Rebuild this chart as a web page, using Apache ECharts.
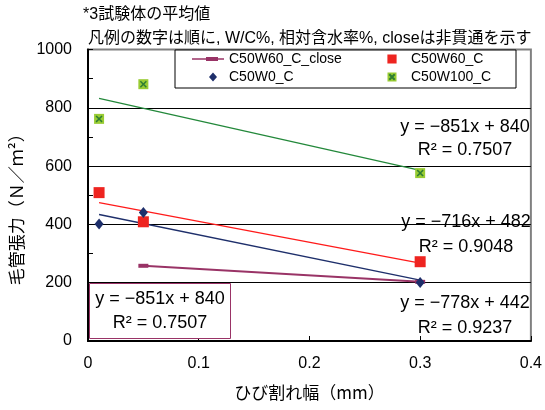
<!DOCTYPE html>
<html><head><meta charset="utf-8">
<script src="https://cdn.jsdelivr.net/npm/echarts@6/dist/echarts.min.js"></script>
<style>html,body{margin:0;padding:0;background:#fff}#c{width:545px;height:410px}</style>
</head><body><div id="c"></div>
<script>
// ---- data ----
const xPoints = [0.01, 0.05, 0.3];
const closeX = [0.05, 0.3];
const closeVals = [258, 203];
const w60Vals = [509, 409, 272];
const w0Vals = [401, 441, 201];
const w100Vals = [762, 881, 576];
const trendX = [0.01, 0.3];
const trendW60 = [475, 267];
const trendW0 = [434, 209];
const trendW100 = [832, 585];
const seriesNames = ['C50W60_C_close', 'C50W60_C', 'C50W0_C', 'C50W100_C'];
const titleLines = ['*3試験体の平均値', '凡例の数字は順に, W/C%, 相対含水率%, closeは非貫通を示す'];
const xName = 'ひび割れ幅（mm）';
const yName = '毛管張力（Ｎ／ｍ²）';
const eqW100 = ['y = −851x + 840', 'R² = 0.7507'];
const eqW60 = ['y = −716x + 482', 'R² = 0.9048'];
const eqW0 = ['y = −778x + 442', 'R² = 0.9237'];

const pairs = (xs, ys) => xs.map((x, i) => [x, ys[i]]);

const LATIN = "'Liberation Sans', 'Noto Sans CJK JP', sans-serif";
const CJK = "'Noto Sans CJK JP', 'Liberation Sans', sans-serif";
const C_CLOSE = '#993366', C_RED = '#ee2420', C_NAVY = '#1e2f6b', C_GREENFILL = '#99cc33', C_GREENX = '#2e7d32', C_GREENLINE = '#23883a';

const dots = 'M0,0h0.01v0.01h-0.01z M31.99,9.99h0.01v0.01h-0.01z ';
const iconClose = 'path://' + dots + 'M0,4.3H32V5.7H0Z M14,3H26V7H14Z';
const iconSquare = 'path://' + dots + 'M13.4,0.4H22.6V9.6H13.4Z';
const iconDiamond = 'path://' + dots + 'M21,0.4L25,5L21,9.6L17,5Z';
const svgGreen = '<svg xmlns="http://www.w3.org/2000/svg" width="32" height="10" viewBox="0 0 32 10"><rect x="13.5" y="0.5" width="9" height="9" fill="' + C_GREENFILL + '"/><path d="M15.3,2.3L20.7,7.7M20.7,2.3L15.3,7.7" stroke="' + C_GREENX + '" stroke-width="2"/></svg>';
const iconGreen = 'image://data:image/svg+xml;charset=utf-8,' + encodeURIComponent(svgGreen);
const xPath = 'path://M0,1.5L1.5,0L5,3.5L8.5,0L10,1.5L6.5,5L10,8.5L8.5,10L5,6.5L1.5,10L0,8.5L3.5,5Z';

const chart = echarts.init(document.getElementById('c'), null, {renderer: 'canvas'});

function eqText(lines, cx, y1, y2) {
  return [
    {type: 'text', z: 100, style: {text: lines[0], x: cx, y: y1, align: 'center', verticalAlign: 'middle', font: "18px " + LATIN, fill: '#000'}},
    {type: 'text', z: 100, style: {text: lines[1], x: cx, y: y2, align: 'center', verticalAlign: 'middle', font: "18px " + LATIN, fill: '#000'}}
  ];
}

chart.setOption({
  animation: false,
  backgroundColor: '#fff',
  title: [
    {text: titleLines[0], left: 83, top: 7, padding: 0, textStyle: {fontSize: 16, fontWeight: 'normal', fontFamily: LATIN, color: '#000', lineHeight: 16}},
    {text: titleLines[1], left: 88, top: 31, padding: 0, textStyle: {fontSize: 16, fontWeight: 'normal', fontFamily: LATIN, color: '#000', lineHeight: 16}}
  ],
  grid: {left: 88, right: 12, top: 49.5, bottom: 69, show: true, borderColor: '#808080', borderWidth: 2, backgroundColor: 'transparent', containLabel: false},
  legend: {
    left: 175, top: 50, width: 330, orient: 'horizontal',
    padding: [1, 5, 3, 17], itemWidth: 32, itemHeight: 10, itemGap: 2,
    borderColor: '#000', borderWidth: 1, backgroundColor: '#fff',
    itemStyle: {borderWidth: 0},
    textStyle: {fontSize: 14, fontFamily: LATIN, color: '#000', lineHeight: 16, width: 143},
    data: [
      {name: seriesNames[0], icon: iconClose, textStyle: {width: 143}},
      {name: seriesNames[1], icon: iconSquare, textStyle: {width: 100}},
      {name: seriesNames[2], icon: iconDiamond, textStyle: {width: 143}},
      {name: seriesNames[3], icon: iconGreen, textStyle: {width: 100}}
    ],
    z: 20
  },
  xAxis: {
    type: 'value', min: 0, max: 0.4, interval: 0.1,
    name: xName, nameLocation: 'middle', nameGap: 43,
    nameTextStyle: {fontSize: 17, fontFamily: CJK, color: '#000'},
    axisLine: {show: true, onZero: false, lineStyle: {color: '#000', width: 2}},
    axisTick: {show: true, inside: true, length: 5, lineStyle: {color: '#000'}},
    axisLabel: {fontSize: 16, fontFamily: LATIN, color: '#000', margin: 15, formatter: v => String(+v.toFixed(1))},
    splitLine: {show: false}
  },
  yAxis: {
    type: 'value', min: 0, max: 1000, interval: 200,
    name: yName, nameLocation: 'middle', nameGap: 58,
    nameTextStyle: {fontSize: 17, fontFamily: CJK, color: '#000', padding: [0, 20, 0, 0]},
    axisLine: {show: true, onZero: false, lineStyle: {color: '#000', width: 2}},
    axisTick: {show: true, inside: true, length: 5, lineStyle: {color: '#000'}},
    minorTick: {show: true, splitNumber: 2, length: 5, lineStyle: {color: '#000'}},
    axisLabel: {fontSize: 16, fontFamily: LATIN, color: '#000', margin: 16, formatter: v => String(Math.round(v))},
    splitLine: {show: true, showMinLine: false, showMaxLine: false, lineStyle: {color: '#000', width: 1}}
  },
  graphic: [
    {type: 'rect', z: 90, shape: {x: 89.5, y: 283.5, width: 141, height: 55}, style: {fill: '#fff', stroke: C_CLOSE, lineWidth: 1}},
    ...eqText(eqW100, 160, 299, 323),
    ...eqText(eqW100, 465, 127, 150),
    ...eqText(eqW60, 466, 222, 247),
    ...eqText(eqW0, 465, 303, 328)
  ],
  series: [
    {name: 'trendW100', type: 'line', data: pairs(trendX, trendW100), symbol: 'none', lineStyle: {color: C_GREENLINE, width: 1.3}, z: 2, silent: true},
    {name: 'trendW60', type: 'line', data: pairs(trendX, trendW60), symbol: 'none', lineStyle: {color: '#ff1a1a', width: 1.3}, z: 2, silent: true},
    {name: 'trendW0', type: 'line', data: pairs(trendX, trendW0), symbol: 'none', lineStyle: {color: C_NAVY, width: 1.3}, z: 2, silent: true},
    {name: seriesNames[0], type: 'line', data: pairs(closeX, closeVals), symbol: 'rect', symbolSize: [10, 4], showAllSymbol: true,
      lineStyle: {color: C_CLOSE, width: 2}, itemStyle: {color: C_CLOSE, borderWidth: 0}, z: 3},
    {name: seriesNames[1], type: 'scatter', data: pairs(xPoints, w60Vals), symbol: 'rect', symbolSize: 11, itemStyle: {color: C_RED, opacity: 1}, z: 4},
    {name: seriesNames[2], type: 'scatter', data: pairs(xPoints, w0Vals), symbol: 'diamond', symbolSize: [9, 11], itemStyle: {color: C_NAVY, opacity: 1}, z: 5},
    {name: seriesNames[3], type: 'scatter', data: pairs(xPoints, w100Vals), symbol: 'rect', symbolSize: 10, itemStyle: {color: C_GREENFILL, opacity: 1}, z: 4},
    {name: 'w100x', type: 'scatter', data: pairs(xPoints, w100Vals), symbol: xPath, symbolSize: 7, itemStyle: {color: C_GREENX, opacity: 1}, z: 5, silent: true}
  ]
});
</script>
</body></html>
